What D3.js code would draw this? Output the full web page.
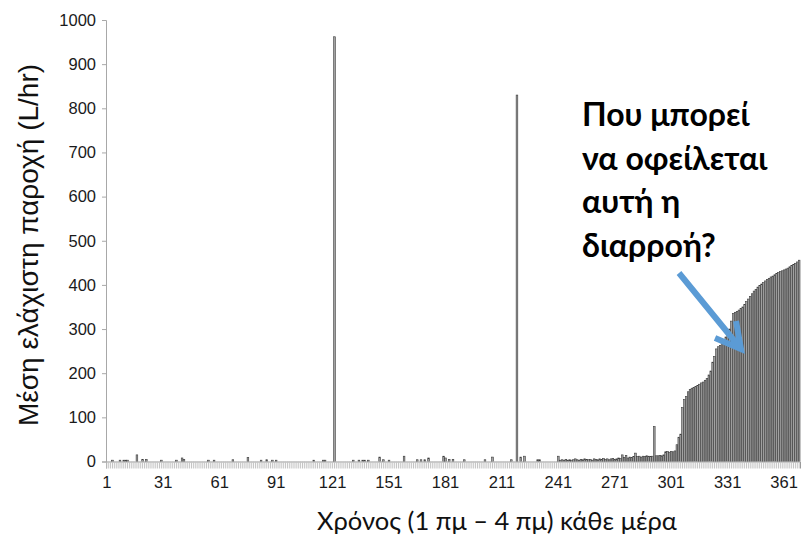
<!DOCTYPE html>
<html lang="el">
<head>
  <meta charset="UTF-8" />
  <title>Μέση ελάχιστη παροχή</title>
  <script src="https://d3js.org/d3.v7.min.js"></script>
  <style>
    body { margin: 0; padding: 0; background: white; }
    svg { display: block; }
  </style>
</head>
<body>
  <svg id="chart" width="802" height="546"></svg>

  <script>
    // minimum night flow (1am - 4am), one value per day
    const flows = [
      0, 0, 0, 3, 0, 0, 0, 3, 0, 3, 3, 3, 0, 0, 0, 0, 15, 0, 0, 5,          // 1-20
      0, 5, 0, 0, 0, 0, 0, 0, 0, 3, 0, 0, 0, 0, 0, 0, 0, 3, 0, 0,            // 21-40
      8, 5, 0, 0, 0, 0, 0, 0, 0, 0, 0, 0, 0, 0, 3, 0, 0, 3, 0, 0,            // 41-60
      0, 0, 0, 0, 0, 0, 0, 4, 0, 0, 0, 0, 0, 0, 0, 9, 0, 0, 0, 0,            // 61-80
      0, 0, 3, 0, 0, 4, 0, 0, 3, 0, 3, 0, 0, 0, 0, 0, 0, 0, 0, 0,            // 81-100
      0, 0, 0, 0, 0, 0, 0, 0, 0, 0, 3, 0, 0, 0, 0, 3, 3, 0, 0, 0,            // 101-120
      0, 962, 0, 0, 0, 0, 0, 0, 0, 0, 0, 3, 0, 0, 3, 0, 3, 3, 0, 3,          // 121-140
      0, 0, 0, 0, 0, 10, 0, 4, 0, 0, 3, 0, 0, 0, 0, 0, 0, 0, 12, 0,          // 141-160
      0, 0, 0, 0, 0, 4, 0, 4, 0, 4, 0, 8, 0, 0, 0, 0, 0, 0, 0, 12,           // 161-180
      8, 0, 5, 0, 5, 0, 0, 0, 0, 0, 4, 0, 0, 0, 0, 0, 0, 0, 0, 0,            // 181-200
      0, 4, 0, 0, 0, 10, 0, 0, 0, 0, 0, 0, 0, 0, 0, 4, 0, 0, 830, 0,         // 201-220
      10, 0, 12, 0, 0, 0, 0, 0, 0, 4, 4, 0, 0, 0, 0, 0, 0, 0, 0, 0,          // 221-240
      12, 3, 4, 3, 5, 3, 4, 3, 4, 6, 4, 3, 5, 4, 6, 5, 4, 5, 3, 6,           // 241-260
      5, 4, 6, 5, 7, 5, 6, 4, 6, 7, 5, 6, 8, 7, 15, 9, 14, 8, 10, 9,         // 261-280
      11, 19, 11, 12, 10, 12, 11, 13, 12, 11, 12, 79, 13, 13, 14, 13, 15, 22, 23, 21, // 281-300
      23, 22, 24, 38, 55, 62, 122, 140, 147, 158, 163, 166, 168, 170, 172, 175, 178, 180, 184, 188, // 301-320
      196, 205, 225, 238, 255, 260, 263, 268, 275, 282, 290, 300, 318, 335, 338, 340, 343, 347, 350, 356, // 321-340
      362, 368, 374, 380, 386, 390, 395, 399, 402, 405, 409, 412, 415, 418, 420, 423, 426, 428, 430, 432, // 341-360
      434, 436, 438, 441, 444, 446, 449, 452, 456                             // 361-369
    ];
    const days = flows.map((d, i) => i + 1);
    const dayLabels = [1, 31, 61, 91, 121, 151, 181, 211, 241, 271, 301, 331, 361];
    const yTicks = [0, 100, 200, 300, 400, 500, 600, 700, 800, 900, 1000];

    const yTitle = "Μέση ελάχιστη παροχή (L/hr)";
    const xTitle = "Χρόνος (1 πμ – 4 πμ) κάθε μέρα";
    const noteLines = ["Που μπορεί", "να οφείλεται", "αυτή η", "διαρροή?"];

    const svg = d3.select("#chart");

    const x = d3.scaleBand()
      .domain(days)
      .range([106, 800])
      .paddingInner(0.12);

    const y = d3.scaleLinear()
      .domain([0, 1000])
      .range([461.5, 20]);

    // bars
    svg.append("g")
      .selectAll("rect")
      .data(flows)
      .enter()
      .append("rect")
      .attr("x", (d, i) => x(days[i]))
      .attr("width", x.bandwidth())
      .attr("y", d => y(d))
      .attr("height", d => y(0) - y(d))
      .attr("fill", "#a2a2a2")
      .attr("stroke", "#3a3a3a")
      .attr("stroke-width", 0.6);

    // daily tick strip under the baseline
    const dayAxis = svg.append("g")
      .attr("transform", `translate(0,${y(0)})`)
      .call(d3.axisBottom(x).tickValues(days).tickSize(7).tickFormat(""));
    dayAxis.select(".domain").attr("stroke", "#9a9a9a");
    dayAxis.selectAll(".tick line").attr("stroke", "#c4c4c4");

    // labels every 30 days
    const labelAxis = svg.append("g")
      .attr("transform", `translate(0,${y(0)})`)
      .call(d3.axisBottom(x).tickValues(dayLabels).tickSize(0).tickPadding(15));
    labelAxis.select(".domain").remove();
    labelAxis.selectAll("text")
      .style("font-family", "'Liberation Sans', Arial, sans-serif")
      .style("font-size", "16.5px")
      .attr("fill", "#1a1a1a");

    // y axis
    const yAxis = svg.append("g")
      .attr("transform", "translate(106,0)")
      .call(d3.axisLeft(y).tickValues(yTicks).tickFormat(d3.format("d")).tickSize(4).tickPadding(6));
    yAxis.select(".domain").attr("stroke", "#a8a8a8");
    yAxis.selectAll(".tick line").attr("stroke", "#a8a8a8");
    yAxis.selectAll("text")
      .style("font-family", "'Liberation Sans', Arial, sans-serif")
      .style("font-size", "16.5px")
      .attr("fill", "#1a1a1a");

    // axis titles
    svg.append("text")
      .attr("transform", "translate(38,245) rotate(-90)")
      .attr("text-anchor", "middle")
      .style("font-family", "'Liberation Sans', Arial, sans-serif")
      .style("font-size", "28px")
      .attr("fill", "#111")
      .text(yTitle);

    svg.append("text")
      .attr("x", 497)
      .attr("y", 530)
      .attr("text-anchor", "middle")
      .style("font-family", "Lato, 'Open Sans', sans-serif")
      .style("font-size", "25.5px")
      .attr("fill", "#111")
      .text(xTitle);

    // annotation
    svg.append("g")
      .selectAll("text")
      .data(noteLines)
      .enter()
      .append("text")
      .attr("x", 582)
      .attr("y", (d, i) => 126 + i * 43.5)
      .style("font-family", "Lato, 'Open Sans', sans-serif")
      .style("font-size", "32px")
      .style("font-weight", "bold")
      .attr("fill", "#000")
      .text(d => d);

    // arrow pointing at the leak
    svg.append("path")
      .attr("d", "M679,273 L741,349 M715,338 L741,349 L736,321")
      .attr("fill", "none")
      .attr("stroke", "#5b9bd5")
      .attr("stroke-width", 6)
      .attr("stroke-linejoin", "miter");
  </script>
</body>
</html>
